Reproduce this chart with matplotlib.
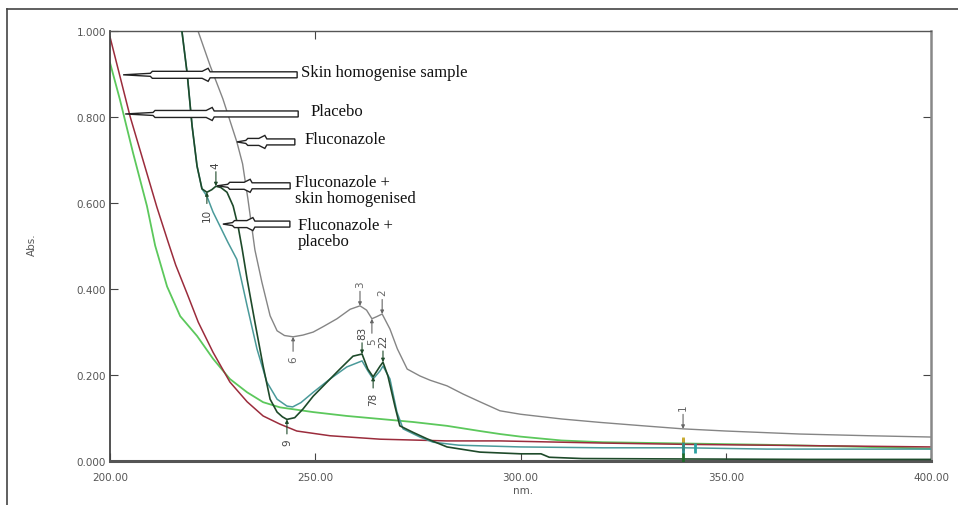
import numpy as np
import matplotlib
matplotlib.use("Agg")
import matplotlib.pyplot as plt
from matplotlib.patches import Polygon
from matplotlib.transforms import ScaledTranslation
from matplotlib.lines import Line2D

# UV spectra (wavelength nm, absorbance)
flu_wl = [221.4, 224.4, 227.5, 230.9, 232.3, 233.6, 235.3, 237.0, 239.0, 240.7,
          242.5, 244.6, 247.0, 249.5, 252.0, 255.3, 258.5, 260.9, 262.5, 263.8,
          265.0, 266.3, 268.2, 270.0, 272.4, 275.5, 278.0, 282.1, 286.0, 290.1,
          295.0, 300.0, 310.0, 319.4, 330.0, 339.6, 350.0, 368.0, 385.0, 400.0]
flu_abs = [1.000, 0.918, 0.841, 0.741, 0.690, 0.608, 0.490, 0.415, 0.337, 0.302,
           0.291, 0.288, 0.292, 0.299, 0.312, 0.330, 0.352, 0.360, 0.350, 0.330,
           0.335, 0.341, 0.306, 0.260, 0.213, 0.197, 0.187, 0.174, 0.155, 0.137,
           0.116, 0.108, 0.097, 0.089, 0.081, 0.074, 0.069, 0.062, 0.058, 0.055]

fsk_wl = [217.5, 218.8, 220.0, 221.2, 222.4, 223.6, 224.8, 225.8, 227.0, 228.5,
          230.0, 231.2, 232.2, 233.4, 235.3, 237.3, 239.0, 240.7, 242.0, 243.1,
          245.0, 247.0, 249.5, 252.9, 256.0, 259.2, 261.4, 262.8, 264.1, 265.8,
          266.5, 267.7, 269.4, 270.6, 273.8, 277.2, 282.1, 290.1, 295.0, 300.0,
          305.0, 307.0, 315.0, 340.0, 370.0, 400.0]
fsk_abs = [1.000, 0.900, 0.778, 0.685, 0.632, 0.624, 0.630, 0.638, 0.635, 0.624,
           0.592, 0.545, 0.492, 0.422, 0.322, 0.220, 0.143, 0.113, 0.102, 0.096,
           0.100, 0.120, 0.150, 0.183, 0.213, 0.243, 0.248, 0.213, 0.195, 0.220,
           0.229, 0.197, 0.127, 0.081, 0.066, 0.051, 0.032, 0.020, 0.018, 0.016,
           0.016, 0.008, 0.005, 0.004, 0.003, 0.003]

fpl_wl = [217.5, 218.8, 220.0, 221.2, 222.4, 223.6, 225.1, 226.8, 228.7, 230.9,
          233.4, 235.8, 238.2, 240.7, 243.1, 244.5, 246.5, 249.5, 253.6, 257.7,
          261.4, 262.8, 264.1, 265.8, 266.5, 268.2, 269.9, 271.4, 275.5, 278.7,
          285.0, 300.0, 320.0, 340.0, 360.0, 380.0, 400.0]
fpl_abs = [1.000, 0.900, 0.778, 0.685, 0.632, 0.615, 0.578, 0.545, 0.508, 0.468,
           0.360, 0.260, 0.183, 0.143, 0.127, 0.125, 0.135, 0.159, 0.190, 0.218,
           0.232, 0.209, 0.190, 0.209, 0.220, 0.190, 0.113, 0.074, 0.055, 0.043,
           0.036, 0.032, 0.030, 0.030, 0.027, 0.027, 0.027]

pla_wl = [200.0, 204.9, 208.0, 211.4, 214.1, 216.0, 218.8, 221.5, 225.1, 229.2,
          233.4, 237.3, 241.4, 245.5, 253.6, 265.8, 282.1, 295.0, 310.0, 320.0,
          340.0, 360.0, 380.0, 400.0]
pla_abs = [0.985, 0.800, 0.700, 0.590, 0.510, 0.455, 0.388, 0.322, 0.252, 0.183,
           0.137, 0.104, 0.085, 0.069, 0.058, 0.050, 0.046, 0.046, 0.043, 0.041,
           0.038, 0.036, 0.034, 0.032]

skn_wl = [200.0, 202.4, 205.6, 209.0, 211.0, 213.9, 217.1, 221.2, 225.1,
          229.2, 233.4, 237.3, 241.4, 249.5, 257.7, 265.8, 273.8, 282.1, 290.1,
          295.0, 300.0, 310.0, 320.0, 340.0, 360.0, 380.0, 400.0]
skn_abs = [0.925, 0.840, 0.716, 0.592, 0.500, 0.405, 0.336, 0.290, 0.237,
           0.190, 0.159, 0.136, 0.124, 0.113, 0.104, 0.097, 0.090, 0.081, 0.069,
           0.062, 0.056, 0.047, 0.043, 0.040, 0.037, 0.033, 0.028]

# peak picks: wavelength, label, label side (+1 above, -1 below)
flu_peaks = [(260.9, "3", 1), (266.3, "2", 1), (244.6, "6", -1), (263.8, "5", -1),
             (339.6, "1", 1)]
fsk_peaks = [(261.4, "83", 1), (266.5, "22", 1), (264.1, "78", -1),
             (243.1, "9", -1), (225.8, "4", 1), (223.6, "10", -1)]

xticks = [200, 250, 300, 350, 400]
yticks = [0.0, 0.2, 0.4, 0.6, 0.8, 1.0]

# legend arrows: text, tip (wl, abs), total length, barb position, text offset
arrow_notes = [
    ("Skin homogenise sample", 203.2, 0.897, 174, 85, (178, 3)),
    ("Placebo", 203.7, 0.806, 173, 87, (185, 3)),
    ("Fluconazole", 230.9, 0.741, 58, 28, (68, 3)),
    ("Fluconazole +\nskin homogenised", 226.1, 0.639, 73, 33, (78, -4)),
    ("Fluconazole +\nplacebo", 227.5, 0.550, 67, 30, (75, -9)),
]

W, H = 958, 506
fig = plt.figure(figsize=(W / 100, H / 100), dpi=100)
ax = fig.add_axes([110 / W, 1 - 461.7 / H, 821 / W, 430.2 / H])

ax.plot(skn_wl, skn_abs, color="#5cc85c", lw=1.3, zorder=2)
ax.plot(pla_wl, pla_abs, color="#9b2c3c", lw=1.1, zorder=2)
ax.plot(flu_wl, flu_abs, color="#858585", lw=1.0, zorder=2)
ax.plot(fpl_wl, fpl_abs, color="#4a9a9a", lw=1.1, zorder=3)
ax.plot(fsk_wl, fsk_abs, color="#1e4a2a", lw=1.2, zorder=3)

ax.set_xlim(200, 400)
ax.set_ylim(0, 1)


def pick(wl, ys, peaks, color, tcolor):
    for w, lab, side in peaks:
        a = np.interp(w, wl, ys)
        dy = 22 if side > 0 else -22
        ax.annotate(lab, xy=(w, a), xytext=(0, dy), textcoords="offset pixels",
                    rotation=90, ha="center", va="center", fontsize=7.5,
                    color=tcolor,
                    arrowprops=dict(arrowstyle="-|>", color=color, lw=0.8,
                                    mutation_scale=5, shrinkA=1, shrinkB=0),
                    zorder=4)


pick(flu_wl, flu_abs, flu_peaks, "#666666", "#666666")
pick(fsk_wl, fsk_abs, fsk_peaks, "#1e4a2a", "#444444")

# small pick markers at 340 nm on the remaining traces
for wl, ys, c in [(pla_wl, pla_abs, "#c02030"), (skn_wl, skn_abs, "#c8b030"),
                  (fpl_wl, fpl_abs, "#2a8a8a"), (fsk_wl, fsk_abs, "#1e6a2a")]:
    ax.plot([339.6], [np.interp(339.6, wl, ys)], marker="|", ms=8, mew=2,
            color=c, zorder=4)
ax.plot([342.5], [np.interp(342.5, fpl_wl, fpl_abs)], marker="|", ms=7, mew=2,
        color="#2aa0a0", zorder=4)


def block_arrow(wl, a, length, barb):
    n = barb * 0.32
    v = [(0, 0), (n, 1.5), (n + 2, 3.5), (barb - 6, 3.5), (barb, 6.5),
         (barb + 2, 3), (length, 3), (length, -3), (barb + 2, -3),
         (barb, -6.5), (barb - 6, -3.5), (n + 2, -3.5), (n, -1.5)]
    tr = fig.dpi_scale_trans + ScaledTranslation(wl, a, ax.transData)
    ax.add_patch(Polygon(np.array(v) / 100.0, closed=True, fc="white",
                         ec="#222222", lw=1.0, transform=tr, zorder=6,
                         clip_on=False))


for text, wl, a, length, barb, off in arrow_notes:
    block_arrow(wl, a, length, barb)
    ax.annotate(text, xy=(wl, a), xytext=off, textcoords="offset pixels",
                ha="left", va="center", fontsize=12, linespacing=1.0,
                family="Liberation Serif", color="#111111", zorder=7)

# axes styling
ax.set_xticks(xticks)
ax.set_xticklabels(["%.2f" % t for t in xticks])
ax.set_yticks(yticks)
ax.set_yticklabels(["%.3f" % t for t in yticks])
ax.tick_params(axis="x", direction="in", length=6, pad=8, labelsize=7.5,
               labelcolor="#555555", color="#444444", top=True)
ax.tick_params(axis="y", direction="in", length=6, pad=3, labelsize=7.5,
               labelcolor="#555555", color="#444444", right=True)
for t, v in zip(ax.xaxis.get_major_ticks(), xticks):
    t.tick2line.set_visible(v == 250)
for t, v in zip(ax.yaxis.get_major_ticks(), yticks):
    t.tick2line.set_visible(v in (0.2, 0.8))

ax.spines["bottom"].set_linewidth(2.2)
ax.spines["bottom"].set_color("#555555")
ax.spines["left"].set_linewidth(1.3)
ax.spines["left"].set_color("#444444")
ax.spines["right"].set_linewidth(1.8)
ax.spines["right"].set_color("#888888")
ax.spines["top"].set_linewidth(1.0)
ax.spines["top"].set_color("#555555")

fig.text(32 / W, 1 - 245 / H, "Abs.", rotation=90, ha="center", va="center",
         fontsize=7.5, color="#555555")
fig.text(523 / W, 1 - 491 / H, "nm.", ha="center", va="center",
         fontsize=7.5, color="#555555")

# outer frame
fig.add_artist(Line2D([7 / W, 1], [1 - 10 / H, 1 - 10 / H],
                      transform=fig.transFigure, color="#444444", lw=1.2))
fig.add_artist(Line2D([7 / W, 7 / W], [0, 1 - 10 / H],
                      transform=fig.transFigure, color="#444444", lw=1.2))

fig.savefig("out.png", dpi=100)
